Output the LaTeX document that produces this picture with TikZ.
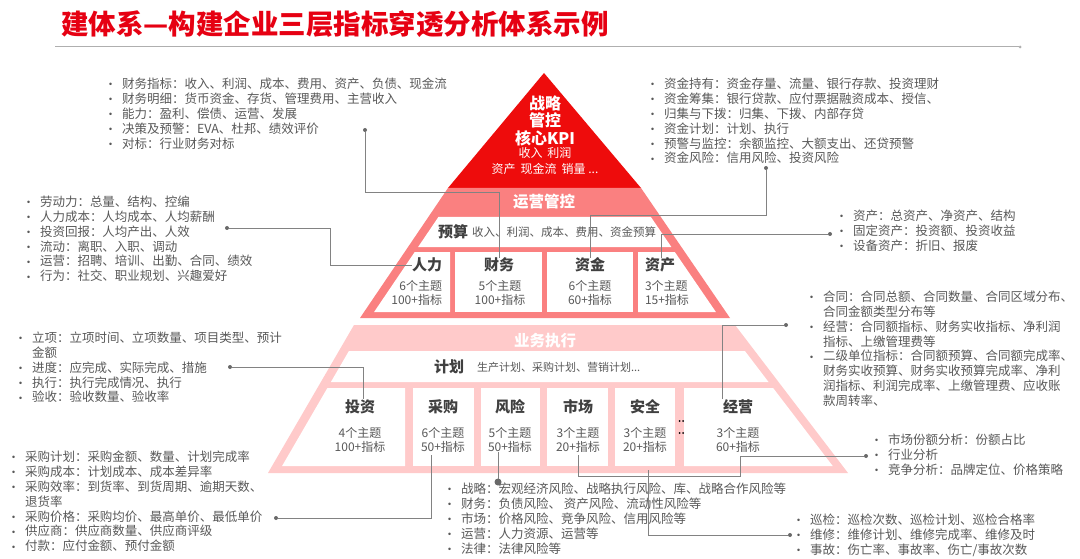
\documentclass[tikz,border=0pt]{standalone}
\usepackage{fontspec}
\setmainfont{Noto Sans CJK SC}
\newfontfamily\bulfont{DejaVu Sans}
\usetikzlibrary{calc}
\definecolor{tred}{RGB}{230,0,18}
\definecolor{pyred}{RGB}{238,12,12}
\definecolor{midpink}{RGB}{250,128,128}
\definecolor{lowpink}{RGB}{255,202,202}
\definecolor{txt}{RGB}{89,89,89}
\definecolor{dark}{RGB}{64,64,64}
\definecolor{connc}{RGB}{130,130,130}
\definecolor{dotc}{RGB}{105,105,105}
\definecolor{rulec}{RGB}{175,175,175}
\newcommand\bulitem[1]{\makebox[14pt][l]{\bulfont\fontsize{8.5}{9}\selectfont\raisebox{0.8pt}{•}}#1}
\newcommand\contitem[1]{\hspace*{14pt}#1}
\begin{document}
\begin{tikzpicture}[x=1pt,y=-1pt,
  every node/.style={inner sep=0pt, outer sep=0pt},
  blk/.style={anchor=north west, align=left, text=txt, font=\fontsize{12.5}{14.9}\selectfont},
  conn/.style={draw=connc, line width=0.8pt},
  dotn/.style={circle, fill=dotc, minimum size=4pt},
  bigdot/.style={circle, fill=dotc, minimum size=7pt},
  tinydot/.style={circle, fill=black, minimum size=2pt},
  boxlbl/.style={text=dark, font=\fontsize{15}{15}\selectfont\bfseries},
  boxnum/.style={text=txt, font=\fontsize{12}{14}\selectfont, align=center},
  bandlbl/.style={text=white, font=\fontsize{15.5}{16}\selectfont\bfseries},
  toplbl/.style={text=white, font=\fontsize{16}{16}\selectfont\bfseries},
  topsmall/.style={text=white, font=\fontsize{12}{12}\selectfont},
  rowtxt/.style={anchor=west, text=txt, font=\fontsize{11.5}{12}\selectfont}
]
\path[use as bounding box, fill=white] (0,0) rectangle (1080,559);

% ---------- title ----------
\node[anchor=west, text=tred, font=\fontsize{27.5}{28}\selectfont\bfseries] (title) at (61,24) {建体系—构建企业三层指标穿透分析体系示例};
\coordinate (rl1) at (55,47);
\node[circle, fill=rulec, minimum size=3pt] (rl2) at (1020,47) {};
\draw[draw=rulec, line width=1pt] (rl1) -- (rl2);

% ---------- pyramid: top ----------
\fill[pyred] (544,73) -- (641,188) -- (448,188) -- cycle;
\node[toplbl] (t1) at (545,103) {战略};
\node[toplbl] (t2) at (545,120.5) {管控};
\node[toplbl] (t3) at (545,138) {核心KPI};
\node[topsmall] (t4) at (545,153) {收入\hspace{5pt}利润};
\node[topsmall] (t5) at (545,168.5) {资产\hspace{5pt}现金流\hspace{5pt}销量 ...};

% ---------- pyramid: middle ----------
\fill[midpink] (448,188) -- (641,188) -- (730,318) -- (360,318) -- cycle;
\fill[white] (438.4,217) -- (650.9,217) -- (671.4,247) -- (418.1,247) -- cycle;
\fill[white] (414.7,252) -- (450,252) -- (450,312) -- (374.1,312) -- cycle;
\fill[white] (455,252) rectangle (542,312);
\fill[white] (547,252) rectangle (633,312);
\fill[white] (638,252) -- (674.8,252) -- (715.9,312) -- (638,312) -- cycle;
\node[bandlbl] (mband) at (544,202) {运营管控};
\node[boxlbl] (lys) at (453,232) {预算};
\node[rowtxt] (lystxt) at (472,232) {收入、利润、成本、费用、资金预算};
\node[boxlbl, anchor=east] (lrl) at (442,265) {人力};
\node[boxnum, anchor=east, align=right] (nrl) at (442,293) {6个主题\\100+指标};
\node[boxlbl] (lcw) at (499,265) {财务};
\node[boxnum] (ncw) at (500,293) {5个主题\\100+指标};
\node[boxlbl] (lzj) at (590,265) {资金};
\node[boxnum] (nzj) at (590,293) {6个主题\\60+指标};
\node[boxlbl, anchor=west] (lzc) at (645,265) {资产};
\node[boxnum, anchor=west, align=left] (nzc) at (645,293) {3个主题\\15+指标};

% ---------- pyramid: bottom ----------
\fill[lowpink] (354,325) -- (735,325) -- (848,473) -- (268,473) -- cycle;
\fill[white] (348.9,351) -- (744.9,351) -- (768.5,382) -- (330.9,382) -- cycle;
\fill[white] (327.4,388) -- (405,388) -- (405,466) -- (282.1,466) -- cycle;
\fill[white] (413,388) rectangle (474,466);
\fill[white] (481,388) rectangle (540,466);
\fill[white] (547,388) rectangle (608,466);
\fill[white] (615,388) rectangle (675,466);
\fill[white] (684,388) -- (773.1,388) -- (832.7,466) -- (684,466) -- cycle;
\node[bandlbl] (bband) at (545,341) {业务执行};
\node[boxlbl] (ljh) at (449,367) {计划};
\node[rowtxt, font=\fontsize{11}{12}\selectfont] (ljhtxt) at (477,367) {生产计划、采购计划、营销计划...};
\node[boxlbl] (ltz) at (360,407) {投资};
\node[boxnum] (ntz) at (360,440) {4个主题\\100+指标};
\node[boxlbl] (lcg) at (443,407) {采购};
\node[boxnum] (ncg) at (443,440) {6个主题\\50+指标};
\node[boxlbl] (lfx) at (510,407) {风险};
\node[boxnum] (nfx) at (510,440) {5个主题\\50+指标};
\node[boxlbl] (lsc) at (578,407) {市场};
\node[boxnum] (nsc) at (578,440) {3个主题\\20+指标};
\node[boxlbl] (laq) at (645,407) {安全};
\node[boxnum] (naq) at (645,440) {3个主题\\20+指标};
\node[boxlbl] (ljy) at (738,407) {经营};
\node[boxnum] (njy) at (738,440) {3个主题\\60+指标};
\node[tinydot] (dd1a) at (679.5,421) {};
\node[tinydot] (dd1b) at (683,421) {};
\node[tinydot] (dd2a) at (679.5,433) {};
\node[tinydot] (dd2b) at (683,433) {};

% ---------- text blocks ----------
\node[blk] (blkA) at (108,77.8) {\bulitem{财务指标：收入、利润、成本、费用、资产、负债、现金流}\\
\bulitem{财务明细：货币资金、存货、管理费用、主营收入}\\
\bulitem{能力：盈利、偿债、运营、发展}\\
\bulitem{决策及预警：EVA、杜邦、绩效评价}\\
\bulitem{对标：行业财务对标}};

\node[blk] (blkB) at (650,77.8) {\bulitem{资金持有：资金存量、流量、银行存款、投资理财}\\
\bulitem{资金筹集：银行贷款、应付票据融资成本、授信、}\\
\bulitem{归集与下拨：归集、下拨、内部存贷}\\
\bulitem{资金计划：计划、执行}\\
\bulitem{预警与监控：余额监控、大额支出、还贷预警}\\
\bulitem{资金风险：信用风险、投资风险}};

\node[blk] (blkC) at (26,195.8) {\bulitem{劳动力：总量、结构、控编}\\
\bulitem{人力成本：人均成本、人均薪酬}\\
\bulitem{投资回报：人均产出、人效}\\
\bulitem{流动：离职、入职、调动}\\
\bulitem{运营：招聘、培训、出勤、合同、绩效}\\
\bulitem{行为：社交、职业规划、兴趣爱好}};

\node[blk] (blkD) at (839,209.8) {\bulitem{资产：总资产、净资产、结构}\\
\bulitem{固定资产：投资额、投资收益}\\
\bulitem{设备资产：折旧、报废}};

\node[blk] (blkE) at (18,331.8) {\bulitem{立项：立项时间、立项数量、项目类型、预计}\\
\contitem{金额}\\
\bulitem{进度：应完成、实际完成、措施}\\
\bulitem{执行：执行完成情况、执行}\\
\bulitem{验收：验收数量、验收率}};

\node[blk] (blkF) at (809,290.8) {\bulitem{合同：合同总额、合同数量、合同区域分布、}\\
\contitem{合同金额类型分布等}\\
\bulitem{经营：合同额指标、财务实收指标、净利润}\\
\contitem{指标、上缴管理费等}\\
\bulitem{二级单位指标：合同额预算、合同额完成率、}\\
\contitem{财务实收预算、财务实收预算完成率、净利}\\
\contitem{润指标、利润完成率、上缴管理费、应收账}\\
\contitem{款周转率、}};

\node[blk] (blkG) at (11,450.8) {\bulitem{采购计划：采购金额、数量、计划完成率}\\
\bulitem{采购成本：计划成本、成本差异率}\\
\bulitem{采购效率：到货率、到货周期、逾期天数、}\\
\contitem{退货率}\\
\bulitem{采购价格：采购均价、最高单价、最低单价}\\
\bulitem{供应商：供应商数量、供应商评级}\\
\bulitem{付款：应付金额、预付金额}};

\node[blk] (blkH) at (447,482.8) {\bulitem{战略：宏观经济风险、战略执行风险、库、战略合作风险等}\\
\bulitem{财务：负债风险、 资产风险、流动性风险等}\\
\bulitem{市场：价格风险、竞争风险、信用风险等}\\
\bulitem{运营：人力资源、运营等}\\
\bulitem{法律：法律风险等}};

\node[blk] (blkI) at (874,433.8) {\bulitem{市场份额分析：份额占比}\\
\bulitem{行业分析}\\
\bulitem{竞争分析：品牌定位、价格策略}};

\node[blk] (blkJ) at (796,513.8) {\bulitem{巡检：巡检次数、巡检计划、巡检合格率}\\
\bulitem{维修：维修计划、维修完成率、维修及时}\\
\bulitem{事故：伤亡率、事故率、伤亡/事故次数}};

% ---------- connectors ----------
\node[dotn] (dA) at (365,130) {};
\coordinate (cA) at (365,192);
\draw[conn] (dA) -- (cA) -| (lcw.north);

\node[dotn] (dB) at (766,168) {};
\coordinate (cB) at (766,215);
\draw[conn] (dB) -- (cB) -| (lzj.north);

\node[dotn] (dD) at (830,234) {};
\coordinate (cD) at (661,258);
\draw[conn] (dD) -| (cD);

\node[dotn] (dC) at (227,228) {};
\coordinate (cC1) at (330,228);
\coordinate (cC2) at (330,265);
\draw[conn] (dC) -- (cC1) -- (cC2) -- (lrl.west);

\node[dotn] (dE) at (230,367) {};
\coordinate (cE) at (363,399);
\draw[conn] (dE) -| (cE);

\node[dotn] (dG) at (276,518) {};
\coordinate (cG) at (431,455);
\draw[conn] (dG) -| (cG);

\coordinate (cH) at (498,452);
\node[bigdot] (dH) at (498,482) {};
\draw[conn] (cH) -- (dH);

\coordinate (cI0) at (578,455);
\coordinate (cI1) at (578,476);
\coordinate (cI2) at (740,476);
\coordinate (cI3) at (740,456);
\node[dotn] (dI) at (866,456) {};
\draw[conn] (cI0) -- (cI1) -- (cI2) -- (cI3) -- (dI);

\coordinate (cJ) at (648,470);
\node[dotn] (dJ) at (790,535) {};
\draw[conn] (cJ) |- (dJ);

\coordinate (cF) at (722,399);
\node[dotn] (dF) at (786,325) {};
\draw[conn] (cF) |- (dF);
\end{tikzpicture}
\end{document}
